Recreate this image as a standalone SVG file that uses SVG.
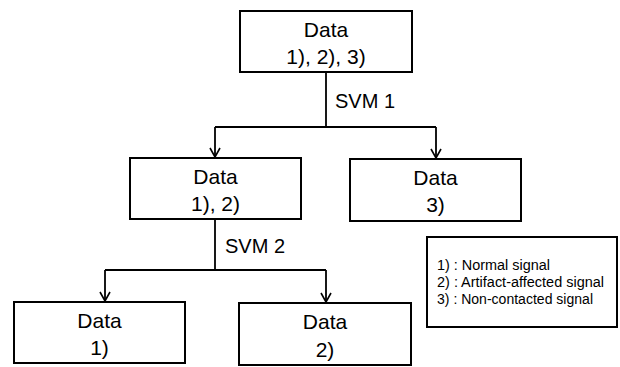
<svg xmlns="http://www.w3.org/2000/svg" width="620" height="367" viewBox="0 0 620 367">
<defs>
<marker id="arr" viewBox="0 0 12 12" refX="11" refY="6" markerWidth="12" markerHeight="12" markerUnits="userSpaceOnUse" orient="auto">
<polyline points="2,1 11,6 2,11" fill="none" stroke="#000" stroke-width="1.6"/>
</marker>
</defs>
<style>
.box{fill:#fff;stroke:#000;stroke-width:2}
.t{font-family:"Liberation Sans",Arial,sans-serif;font-size:21px;fill:#000;text-anchor:middle}
.lbl{font-family:"Liberation Sans",Arial,sans-serif;font-size:20px;fill:#000}
.lg{font-family:"Liberation Sans",Arial,sans-serif;font-size:14px;fill:#000}
.c{fill:none;stroke:#000;stroke-width:1.8}
</style>
<rect width="620" height="367" fill="#fff"/>
<g id="connectors">
<path class="c" d="M326,72 V127 M215,127 H436"/>
<path class="c" d="M215,127 V157" marker-end="url(#arr)"/>
<path class="c" d="M436,127 V158" marker-end="url(#arr)"/>
<path class="c" d="M215,219 V270 M105,270 H326"/>
<path class="c" d="M105,270 V301" marker-end="url(#arr)"/>
<path class="c" d="M326,270 V302" marker-end="url(#arr)"/>
<text class="lbl" x="335" y="108">SVM 1</text>
<text class="lbl" x="225" y="253">SVM 2</text>
</g>
<g id="n-root">
<rect class="box" x="240" y="11" width="172" height="61"/>
<text class="t" x="326" y="37">Data</text>
<text class="t" x="326" y="64">1), 2), 3)</text>
</g>
<g id="n-12">
<rect class="box" x="130" y="158" width="171" height="61"/>
<text class="t" x="215.5" y="184">Data</text>
<text class="t" x="215.5" y="211">1), 2)</text>
</g>
<g id="n-3">
<rect class="box" x="350" y="159" width="171" height="62"/>
<text class="t" x="435.5" y="185">Data</text>
<text class="t" x="435.5" y="212">3)</text>
</g>
<g id="n-1">
<rect class="box" x="14" y="302" width="171" height="61"/>
<text class="t" x="99.5" y="328">Data</text>
<text class="t" x="99.5" y="355">1)</text>
</g>
<g id="n-2">
<rect class="box" x="239" y="303" width="172" height="62"/>
<text class="t" x="325" y="329">Data</text>
<text class="t" x="325" y="357">2)</text>
</g>
<g id="legend">
<rect class="box" x="427" y="237" width="190" height="90"/>
<text class="lg" x="437" y="270" textLength="113" lengthAdjust="spacingAndGlyphs">1) : Normal signal</text>
<text class="lg" x="437" y="287" textLength="167" lengthAdjust="spacingAndGlyphs">2) : Artifact-affected signal</text>
<text class="lg" x="437" y="304" textLength="156" lengthAdjust="spacingAndGlyphs">3) : Non-contacted signal</text>
</g>
</svg>
